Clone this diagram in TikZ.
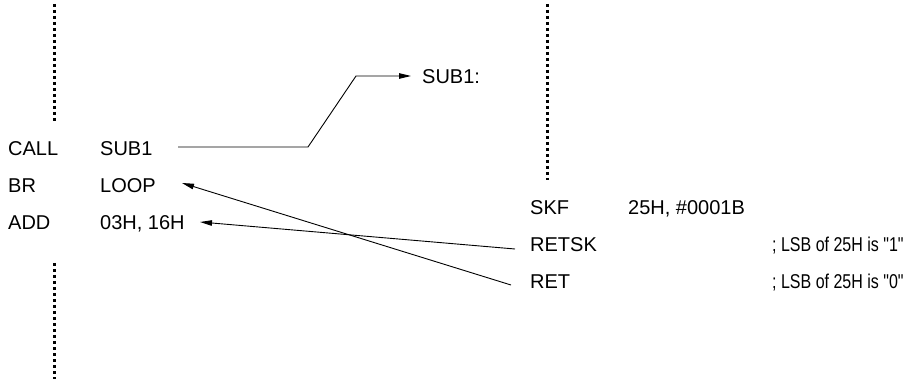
\documentclass[tikz,border=0pt]{standalone}
\usepackage{fontspec}
\usepackage{graphicx}
\setmainfont{Liberation Sans}
\usetikzlibrary{arrows.meta}
\newcommand{\narrowtxt}[1]{\scalebox{0.8}[1]{#1}}
\begin{document}
\begin{tikzpicture}[x=1pt,y=-1pt,
  txt/.style={anchor=base west,inner sep=0pt,font=\fontsize{20}{24}\selectfont},
  conn/.style={line width=0.9pt},
  arr/.style={conn,-{Triangle[length=12pt,width=5.5pt]}},
  dots/.style={line width=3pt,dash pattern=on 3pt off 3pt}]
\useasboundingbox (0,0) rectangle (905,379);
% dotted continuation marks
\coordinate (d1a) at (54,4);   \coordinate (d1b) at (54,121);
\coordinate (d2a) at (54,263); \coordinate (d2b) at (54,379);
\coordinate (d3a) at (547,4);  \coordinate (d3b) at (547,180);
\draw[dots] (d1a) -- (d1b);
\draw[dots] (d2a) -- (d2b);
\draw[dots] (d3a) -- (d3b);
% main program
\node[txt] (call) at (8,156) {CALL};
\node[txt] (callop) at (100,156) {SUB1};
\node[txt] (br) at (8,193) {BR};
\node[txt] (brop) at (100,193) {LOOP};
\node[txt] (add) at (8,230) {ADD};
\node[txt] (addop) at (100,230) {03H, 16H};
% subroutine
\node[txt] (sub) at (422,84) {SUB1:};
\node[txt] (skf) at (530,215) {SKF};
\node[txt] (skfop) at (628,215) {25H, \#0001B};
\node[txt] (retsk) at (530,252) {RETSK};
\node[txt] (retskc) at (772,252) {\narrowtxt{; LSB of 25H is \textquotedbl 1\textquotedbl}};
\node[txt] (ret) at (530,289) {RET};
\node[txt] (retc) at (772,289) {\narrowtxt{; LSB of 25H is \textquotedbl 0\textquotedbl}};
% connector end points
\coordinate (cs) at (178,147);
\coordinate (k1) at (308,147);
\coordinate (k2) at (356,76);
\coordinate (ce) at (411,76);
\coordinate (r1) at (515,249);
\coordinate (t1) at (200,222);
\coordinate (r2) at (511,285);
\coordinate (t2) at (182,183);
\draw[arr] (cs) -- (k1) -- (k2) -- (ce);
\draw[arr] (r1) -- (t1);
\draw[arr] (r2) -- (t2);
\end{tikzpicture}
\end{document}
